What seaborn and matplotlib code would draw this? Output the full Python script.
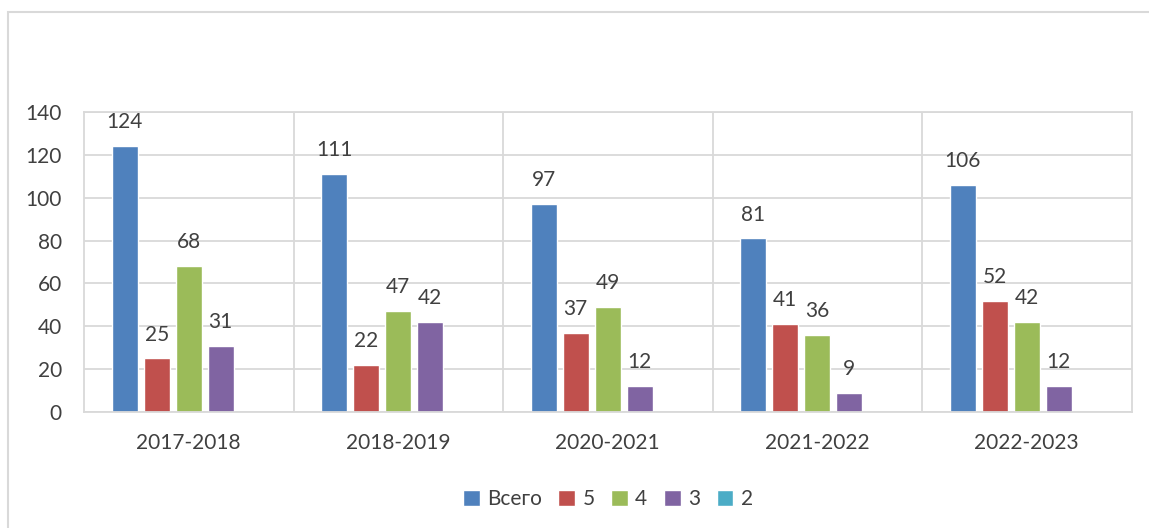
import numpy as np
import pandas as pd
import matplotlib
matplotlib.use("Agg")
import matplotlib.pyplot as plt
import seaborn as sns
from matplotlib.patches import Rectangle

years = ['2017-2018', '2018-2019', '2020-2021', '2021-2022', '2022-2023']
series_names = ['Всего', '5', '4', '3', '2']
total = [124, 111, 97, 81, 106]
grade5 = [25, 22, 37, 41, 52]
grade4 = [68, 47, 49, 36, 42]
grade3 = [31, 42, 12, 9, 12]
grade2 = [0, 0, 0, 0, 0]
colors = ['#4F81BD', '#C0504D', '#9BBB59', '#8064A2', '#4BACC6']

values = [total, grade5, grade4, grade3, grade2]
rows = []
for name, vals in zip(series_names, values):
    for y, v in zip(years, vals):
        rows.append({'year': y, 'series': name, 'value': v})
df = pd.DataFrame(rows)

sns.set_style('white')
plt.rcParams['font.family'] = ['Lato', 'DejaVu Sans']
text_color = '#404040'
grid_color = '#D9D9D9'
fs = 15

fig = plt.figure(figsize=(11.49, 5.28), dpi=100)
ax = fig.add_axes([0.0731, 0.2197, 0.9117, 0.5682])

sns.barplot(data=df, x='year', y='value', hue='series', palette=colors,
            width=0.764, gap=0.2, saturation=1, ax=ax, legend=True)

ax.set_ylim(0, 140)
ax.set_yticks(range(0, 141, 20))
ax.set_xlim(-0.5, len(years) - 0.5)
ax.set_xlabel('')
ax.set_ylabel('')
ax.tick_params(axis='both', length=0, labelsize=fs, colors=text_color)
ax.tick_params(axis='x', pad=15)
ax.tick_params(axis='y', pad=16)

# gridlines: horizontal and category separators
ax.set_axisbelow(True)
ax.yaxis.grid(True, color=grid_color, linewidth=1.3)
for i in range(len(years) - 1):
    ax.axvline(i + 0.5, color=grid_color, linewidth=1.3, zorder=0)
for sp in ax.spines.values():
    sp.set_color(grid_color)
    sp.set_linewidth(1.3)

for cont, name in zip(ax.containers, series_names):
    if name == '2':
        continue
    ax.bar_label(cont, padding=10, fontsize=fs, color=text_color)

handles, labels = ax.get_legend_handles_labels()
ax.legend(handles, labels, loc='center', bbox_to_anchor=(0.5, -0.29), ncol=5,
          frameon=False, fontsize=fs, labelcolor=text_color,
          handlelength=0.8, handleheight=0.8, handletextpad=0.35, columnspacing=0.8)

# outer chart border
fig.patches.append(Rectangle((8 / 1149, -0.1), 1.2, 1 - 12 / 528 + 0.1,
                             transform=fig.transFigure, fill=False,
                             edgecolor=grid_color, linewidth=1.5))

fig.savefig('out.png', dpi=100)
